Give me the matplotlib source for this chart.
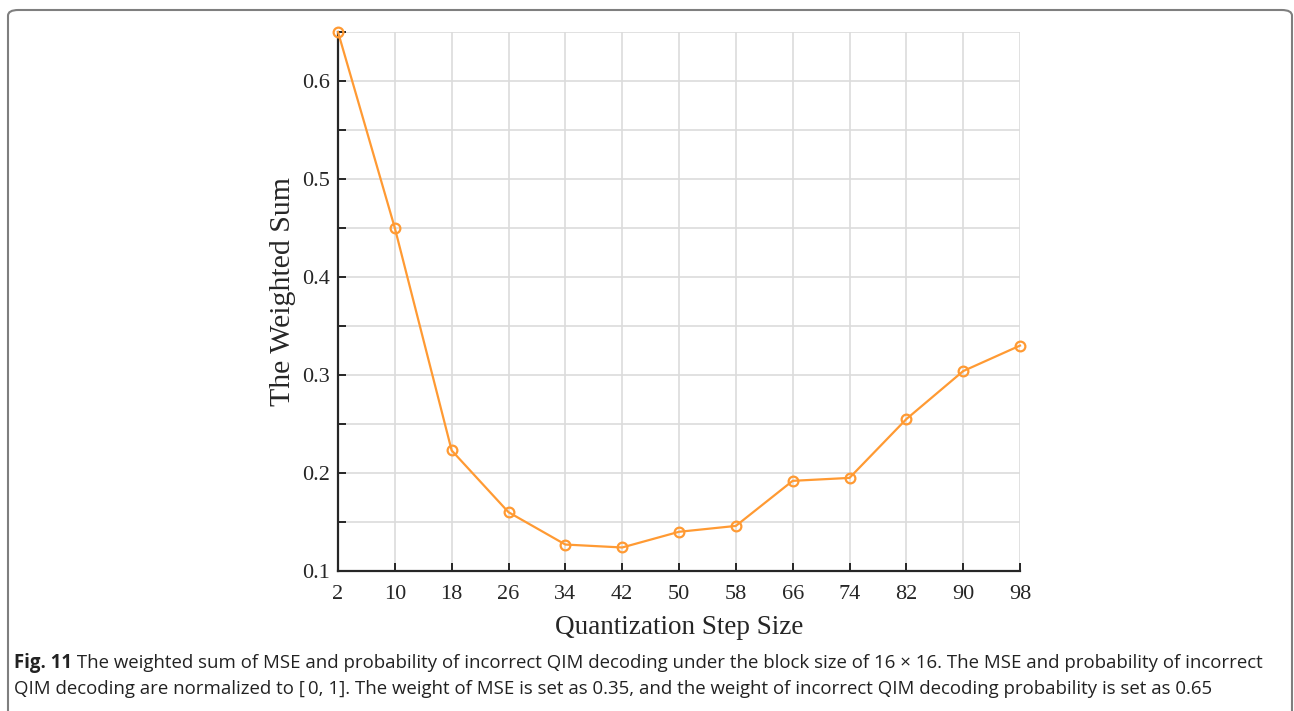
import matplotlib
matplotlib.use("Agg")
import matplotlib.pyplot as plt
from matplotlib.patches import FancyBboxPatch
import numpy as np

# quantization step sizes and weighted sum
step_size = [2, 10, 18, 26, 34, 42, 50, 58, 66, 74, 82, 90, 98]
weighted_sum = [0.650, 0.450, 0.223, 0.160, 0.127, 0.124, 0.140,
                0.146, 0.192, 0.195, 0.255, 0.304, 0.330]
y_ticks = [0.1, 0.2, 0.3, 0.4, 0.5, 0.6]

caption_bold = "Fig. 11"
caption_rest = (" The weighted sum of MSE and probability of incorrect QIM decoding under the block size of 16 \u00d7 16. "
                "The MSE and probability of incorrect")
caption_line2 = ("QIM decoding are normalized to [\u20090, 1]. The weight of MSE is set as 0.35, and the weight of "
                 "incorrect QIM decoding probability is set as 0.65")

orange = "#ff9a33"
dark = "#262626"

fig = plt.figure(figsize=(12.94, 7.11), dpi=100)

# frame around the figure
box = FancyBboxPatch((8 / 1294, -0.05), (1292 - 8) / 1294, 1.05 - 10 / 711,
                     boxstyle="round,pad=0,rounding_size=0.008",
                     transform=fig.transFigure, facecolor="none",
                     edgecolor="#7f7f7f", linewidth=1.5, zorder=0)
fig.patches.append(box)

ax = fig.add_axes([338 / 1294, 1 - 571 / 711, (1020 - 338) / 1294, (571 - 32) / 711])

ax.plot(step_size, weighted_sum, color=orange, linewidth=1.6, marker="o",
        markersize=7, markerfacecolor="none", markeredgecolor=orange,
        markeredgewidth=1.6, clip_on=False, zorder=3)

ax.set_xlim(2, 98)
ax.set_ylim(0.1, 0.65)
ax.set_xticks(step_size)
ax.set_yticks(y_ticks)
ax.set_yticks(np.arange(0.15, 0.66, 0.1), minor=True)
ax.set_yticklabels([f"{v:.1f}" for v in y_ticks])

ax.grid(True, which="both", color="#dcdcdc", linewidth=1.2)
ax.set_axisbelow(True)

for s in ["top", "right"]:
    ax.spines[s].set_visible(False)
for s in ["left", "bottom"]:
    ax.spines[s].set_color(dark)
    ax.spines[s].set_linewidth(1.6)

ax.tick_params(axis="both", which="both", direction="in", length=6, width=1.4,
               color=dark, labelcolor=dark, labelsize=16)
ax.tick_params(axis="x", pad=10)
ax.tick_params(axis="y", pad=6)
for lab in ax.get_xticklabels() + ax.get_yticklabels():
    lab.set_family("Liberation Serif")

ax.set_xlabel("Quantization Step Size", family="Liberation Serif", fontsize=19.5,
              color=dark, labelpad=8)
ax.set_ylabel("The Weighted Sum", family="Liberation Serif", fontsize=21.5,
              color=dark)
ax.yaxis.set_label_coords(-0.062, 0.518)

# caption
t = fig.text(14 / 1294, 1 - 668 / 711, caption_bold, fontsize=13.4,
             family="Open Sans", weight="bold", color="#222222", va="baseline")
fig.canvas.draw()
bb = t.get_window_extent()
fig.text(bb.x1 / 1294, 1 - 668 / 711, caption_rest, fontsize=13.4,
         family="Open Sans", color="#222222", va="baseline")
fig.text(14 / 1294, 1 - 694 / 711, caption_line2, fontsize=13.4,
         family="Open Sans", color="#222222", va="baseline")

fig.savefig("out.png", dpi=100)
